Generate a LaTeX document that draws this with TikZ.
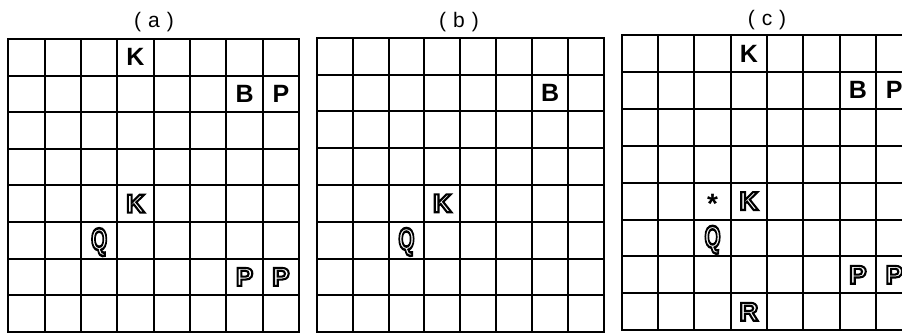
\documentclass[tikz,border=0pt]{standalone}
\usepackage{fontspec}
\setmainfont{Liberation Sans}
\newcommand\hol[1]{\special{pdf:literal direct 1 Tr 2.1 w}#1\special{pdf:literal direct 0 Tr}}
\newcommand\boardlines{%
  \foreach \i in {0,...,8} {
    \draw[gridline] (\i,0) -- (\i,8);
    \draw[gridline] (0,\i) -- (8,\i);
  }}
\tikzset{
  gridline/.style={line width=2pt, line cap=rect, black},
  piece/.style={inner sep=0pt, font=\fontsize{25}{25}\selectfont\bfseries},
  hpiece/.style={inner sep=0pt, font=\fontsize{26}{26}\selectfont\bfseries},
  title/.style={inner sep=0pt, font=\fontsize{21}{21}\selectfont},
}
\begin{document}
\begin{tikzpicture}[x=1pt,y=-1pt]
\useasboundingbox (0,0) rectangle (902,333);
\clip (0,0) rectangle (902,333);
\fill[white] (0,0) rectangle (902,333);

% titles
\node[title] (ta) at (154,22) {(\hspace{7pt}a\hspace{7pt})};
\node[title] (tb) at (459,22) {(\hspace{7pt}b\hspace{7pt})};
\node[title] (tc) at (767,20) {(\hspace{7pt}c\hspace{7pt})};

% board (a)
\begin{scope}[shift={(8.3,39)}, x=36.35pt, y=-36.6pt]
  \boardlines
  \node[piece] (a-K) at (3.5,0.5) {K};
  \node[piece] (a-B) at (6.5,1.5) {B};
  \node[piece] (a-P) at (7.5,1.5) {P};
  \node[hpiece] (a-K2) at (3.5,4.5) {\hol{K}};
  \node[hpiece] (a-Q) at (2.5,5.55) {\hol{\scalebox{0.8}[1.2]{Q}}};
  \node[hpiece] (a-P1) at (6.5,6.5) {\hol{P}};
  \node[hpiece] (a-P2) at (7.5,6.5) {\hol{P}};
\end{scope}

% board (b)
\begin{scope}[shift={(316.7,37.7)}, x=35.9pt, y=-36.8pt]
  \boardlines
  \node[piece] (b-B) at (6.5,1.5) {B};
  \node[hpiece] (b-K2) at (3.5,4.5) {\hol{K}};
  \node[hpiece] (b-Q) at (2.5,5.55) {\hol{\scalebox{0.8}[1.2]{Q}}};
\end{scope}

% board (c)
\begin{scope}[shift={(621.7,35)}, x=36.35pt, y=-36.9pt]
  \boardlines
  \node[piece] (c-K) at (3.5,0.5) {K};
  \node[piece] (c-B) at (6.5,1.5) {B};
  \node[piece] (c-P) at (7.5,1.5) {P};
  \node[inner sep=0pt, anchor=north, font=\fontsize{28}{28}\selectfont\bfseries] (c-star) at (2.5,4.3) {*};
  \node[hpiece] (c-K2) at (3.5,4.5) {\hol{K}};
  \node[hpiece] (c-Q) at (2.5,5.55) {\hol{\scalebox{0.8}[1.2]{Q}}};
  \node[hpiece] (c-P1) at (6.5,6.5) {\hol{P}};
  \node[hpiece] (c-P2) at (7.5,6.5) {\hol{P}};
  \node[hpiece] (c-R) at (3.5,7.5) {\hol{R}};
\end{scope}
\end{tikzpicture}
\end{document}
